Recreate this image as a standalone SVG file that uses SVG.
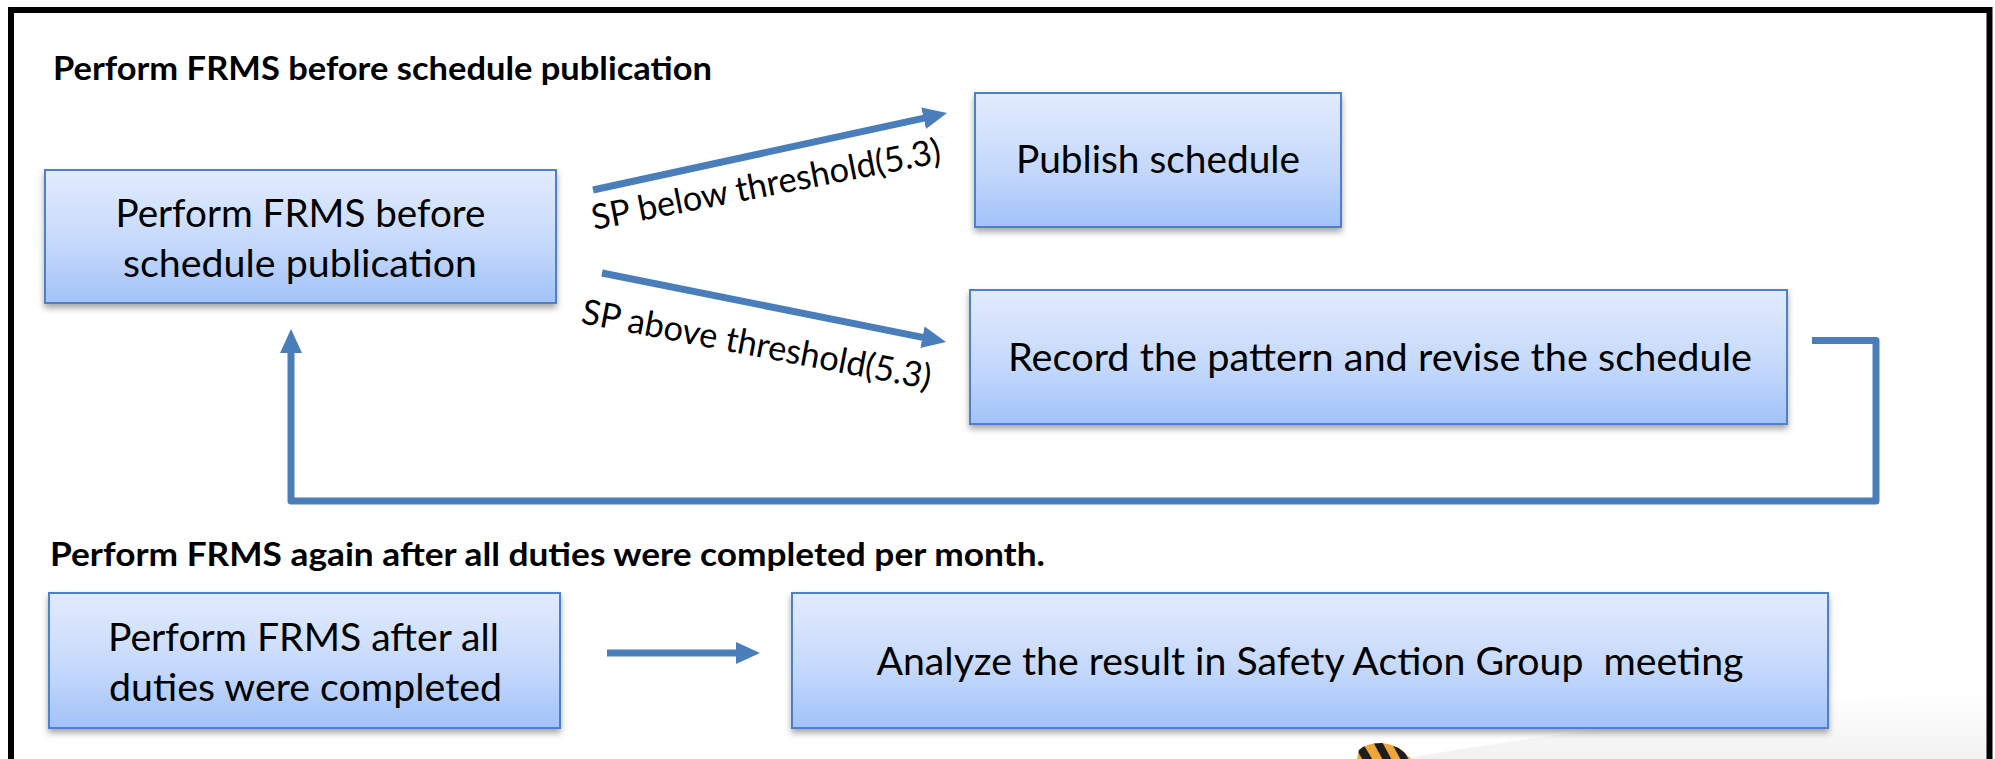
<svg xmlns="http://www.w3.org/2000/svg" width="1995" height="759" viewBox="0 0 1995 759">
  <style>
    .box { fill: url(#boxFill); stroke: #4f81c7; stroke-width: 2; filter: url(#shadow); }
    .label { font-family: Lato, "Liberation Sans", sans-serif; font-size: 39.5px; fill: #000; }
    .title { font-family: Lato, "Liberation Sans", sans-serif; font-size: 32.5px; font-weight: bold; fill: #000; }
    .edge { font-family: Lato, "Liberation Sans", sans-serif; font-size: 35px; fill: #000; }
    .conn { fill: none; stroke: #4a7ebb; stroke-width: 7; }
  </style>
  <defs>
    <linearGradient id="boxFill" x1="0" y1="0" x2="0" y2="1">
      <stop offset="0" stop-color="#e2ebfd"/>
      <stop offset="0.55" stop-color="#c6d9fb"/>
      <stop offset="1" stop-color="#a2c2f8"/>
    </linearGradient>
    <linearGradient id="haze" x1="0" y1="0" x2="0" y2="1">
      <stop offset="0" stop-color="#ffffff"/>
      <stop offset="1" stop-color="#f2f2f2"/>
    </linearGradient>
    <filter id="shadow" x="-5%" y="-10%" width="110%" height="130%">
      <feDropShadow dx="0" dy="4" stdDeviation="3" flood-color="#000" flood-opacity="0.35"/>
    </filter>
    <marker id="head" markerUnits="userSpaceOnUse" markerWidth="24" markerHeight="24" viewBox="0 0 24 22" refX="4" refY="11" orient="auto">
      <path d="M0,0 L24,11 L0,22 Z" fill="#4a7ebb"/>
    </marker>
    <clipPath id="stripeClip">
      <path d="M1357,759 L1359,750 Q1366,743 1382,743 Q1398,744 1411,759 Z"/>
    </clipPath>
  </defs>

  <rect width="1995" height="759" fill="#ffffff"/>

  <!-- faint shading in the lower right corner -->
  <path d="M1400,759 Q1680,712 1987,690 V759 Z" fill="url(#haze)"/>

  <!-- outer frame, open at the bottom -->
  <path d="M11,770 V10 H1989.5 V770" fill="none" stroke="#000" stroke-width="6"/>

  <!-- section headings -->
  <text class="title" x="53" y="80" textLength="659" lengthAdjust="spacingAndGlyphs">Perform FRMS before schedule publication</text>
  <text class="title" x="50" y="566" textLength="995" lengthAdjust="spacingAndGlyphs">Perform FRMS again after all duties were completed per month.</text>

  <!-- connectors -->
  <g id="connectors">
    <line class="conn" x1="593" y1="190" x2="927.5" y2="117.3" marker-end="url(#head)"/>
    <line class="conn" x1="602" y1="273" x2="926.4" y2="338.1" marker-end="url(#head)"/>
    <path class="conn" d="M1812,340.5 H1876 V501 H291 V349" stroke-linejoin="round" marker-end="url(#head)"/>
    <line class="conn" x1="607" y1="653" x2="740" y2="653" stroke-width="8.5" marker-end="url(#head)"/>
    <text class="edge" transform="translate(594,230) rotate(-11)" textLength="355" lengthAdjust="spacingAndGlyphs">SP below threshold(5.3)</text>
    <text class="edge" transform="translate(580,323) rotate(10.8)" textLength="355" lengthAdjust="spacingAndGlyphs">SP above threshold(5.3)</text>
  </g>

  <g id="node-perform-before">
    <rect class="box" x="45" y="170" width="511" height="133"/>
    <text class="label" x="300.5" y="227" text-anchor="middle" textLength="370" lengthAdjust="spacingAndGlyphs">Perform FRMS before</text>
    <text class="label" x="300" y="277" text-anchor="middle" textLength="354" lengthAdjust="spacingAndGlyphs">schedule publication</text>
  </g>

  <g id="node-publish">
    <rect class="box" x="975" y="93" width="366" height="134"/>
    <text class="label" x="1158" y="173" text-anchor="middle" textLength="284" lengthAdjust="spacingAndGlyphs">Publish schedule</text>
  </g>

  <g id="node-record">
    <rect class="box" x="970" y="290" width="817" height="134"/>
    <text class="label" x="1380" y="371" text-anchor="middle" textLength="744" lengthAdjust="spacingAndGlyphs">Record the pattern and revise the schedule</text>
  </g>

  <g id="node-perform-after">
    <rect class="box" x="49" y="593" width="511" height="135"/>
    <text class="label" x="303.5" y="651" text-anchor="middle" textLength="391" lengthAdjust="spacingAndGlyphs">Perform FRMS after all</text>
    <text class="label" x="305.5" y="701" text-anchor="middle" textLength="393" lengthAdjust="spacingAndGlyphs">duties were completed</text>
  </g>

  <g id="node-analyze">
    <rect class="box" x="792" y="593" width="1036" height="135"/>
    <text class="label" x="1310" y="675" text-anchor="middle" textLength="867" lengthAdjust="spacingAndGlyphs" xml:space="preserve">Analyze the result in Safety Action Group  meeting</text>
  </g>

  <!-- striped ornament peeking in at the bottom edge -->
  <g clip-path="url(#stripeClip)">
    <rect x="1350" y="738" width="70" height="25" fill="#eca63a"/>
    <path d="M1352,742 L1362,742 L1374,762 L1364,762 Z M1372,740 L1381,740 L1393,762 L1384,762 Z M1390,740 L1398,740 L1410,762 L1402,762 Z" fill="#1e1e1e"/>
  </g>
</svg>
